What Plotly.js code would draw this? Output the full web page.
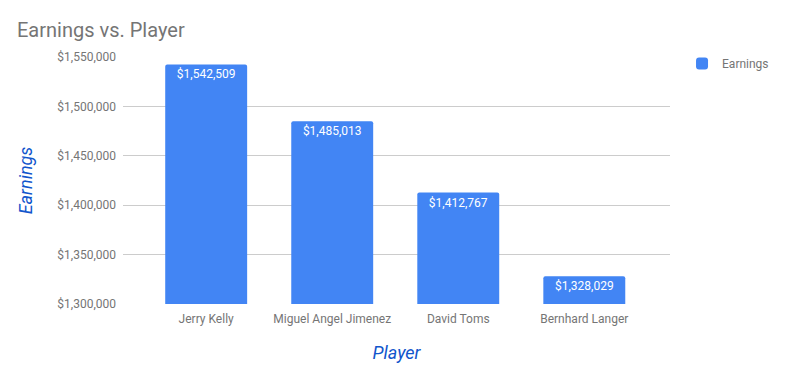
<!DOCTYPE html>
<html>
<head>
<meta charset="utf-8">
<script src="https://cdn.plot.ly/plotly-3.0.1.min.js"></script>
<style>html,body{margin:0;padding:0;background:#fff;}#chart{width:793px;height:371px;}</style>
</head>
<body>
<div id="chart"></div>
<script>
const players = ["Jerry Kelly", "Miguel Angel Jimenez", "David Toms", "Bernhard Langer"];
const earnings = [1542509, 1485013, 1412767, 1328029];
const yTicks = [1300000, 1350000, 1400000, 1450000, 1500000, 1550000];

const fmt = v => "$" + v.toLocaleString("en-US");

const trace = {
  type: "bar",
  x: players,
  y: earnings,
  name: "Earnings",
  marker: {color: "#4285f4", cornerradius: 2},
  width: 0.65,
  text: earnings.map(fmt),
  textposition: "inside",
  insidetextanchor: "end",
  textangle: 0,
  constraintext: "none",
  textfont: {family: "Roboto", size: 12, color: "#ffffff"},
  hoverinfo: "none"
};

const layout = {
  width: 793, height: 371,
  margin: {l: 123, r: 123, t: 57, b: 67},
  paper_bgcolor: "#ffffff", plot_bgcolor: "#ffffff",
  font: {family: "Roboto", color: "#757575", size: 12},
  title: {text: "Earnings vs. Player", x: 17/793, xanchor: "left", y: 1 - 30/371, yanchor: "middle",
          font: {family: "Roboto", size: 20, color: "#757575"}},
  xaxis: {
    type: "category",
    range: [-0.66, 3.68],
    showgrid: false, zeroline: false, showline: false,
    ticks: "", ticklabelstandoff: 6,
    tickfont: {family: "Roboto", size: 12, color: "#757575"},
    title: {text: "Player", font: {family: "Roboto", size: 18, color: "#1155cc", style: "italic"}, standoff: 21}
  },
  yaxis: {
    range: [1300000, 1550000],
    tickvals: yTicks,
    ticktext: yTicks.map(fmt),
    showgrid: true, gridcolor: "#cccccc", gridwidth: 1,
    zeroline: false, showline: false, ticks: "", ticklabelstandoff: 6,
    tickfont: {family: "Roboto", size: 12, color: "#757575"},
    title: {text: "Earnings", font: {family: "Roboto", size: 18, color: "#1155cc", style: "italic"}, standoff: 20}
  },
  showlegend: true,
  legend: {x: 1.022, xanchor: "left", y: 1.032, yanchor: "top", font: {family: "Roboto", size: 12, color: "#757575"}},
  bargap: 0.35
};

Plotly.newPlot("chart", [trace], layout, {displayModeBar: false, staticPlot: true});
</script>
</body>
</html>
